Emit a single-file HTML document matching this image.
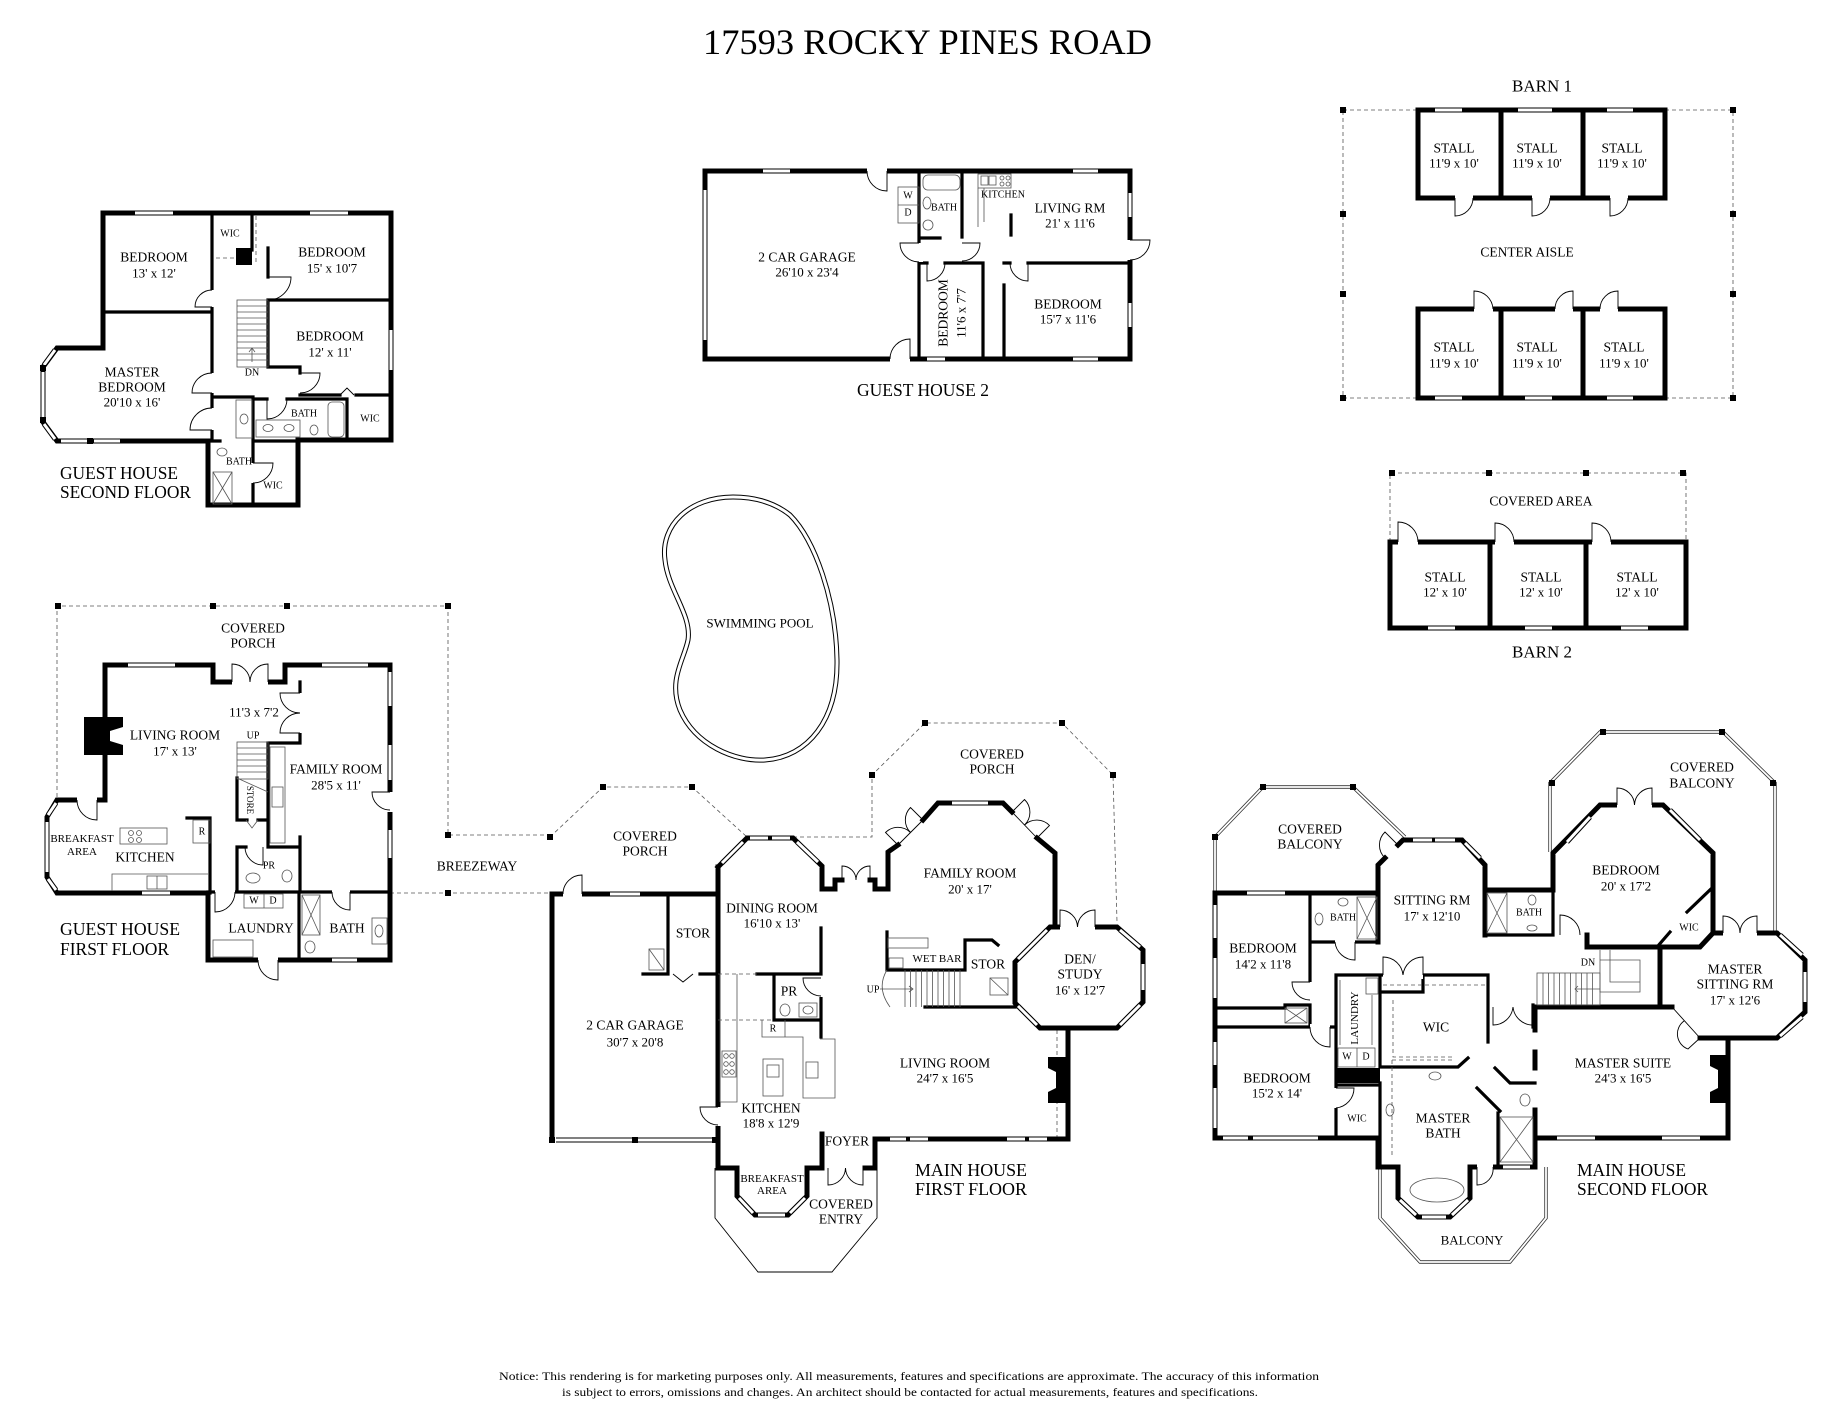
<!DOCTYPE html>
<html><head><meta charset="utf-8"><style>
html,body{margin:0;padding:0;background:#fff;}
svg{display:block}
.W{stroke:#000;stroke-width:5;fill:none;stroke-linecap:square;stroke-linejoin:miter}
.I{stroke:#000;stroke-width:3.2;fill:none;stroke-linecap:square}
.T{stroke:#000;stroke-width:.9;fill:none}
.G{stroke:#555;stroke-width:.8;fill:none}
.D{stroke:#555;stroke-width:.8;fill:none;stroke-dasharray:4 3}
.wb{stroke:#000;stroke-width:5;fill:none}
.ww{stroke:#fff;stroke-width:3;fill:none}
.bb{stroke:#333;stroke-width:3.4;fill:none}
.bw{stroke:#fff;stroke-width:1.8;fill:none}
text{font-family:"Liberation Serif","DejaVu Serif",serif;fill:#000;text-anchor:middle;dominant-baseline:central;font-size:13.5px}
.d{font-size:13px}
.s{font-size:10px}
.L{font-size:17.5px;text-anchor:start}
</style></head><body>
<svg width="1848" height="1427" viewBox="0 0 1848 1427" xmlns="http://www.w3.org/2000/svg">
<rect x="0" y="0" width="1848" height="1427" fill="#fff"/>

<!-- dashed outlines -->
<path class="D" d="M1343,110H1733V398H1343Z M1390,542V473H1686V542
M57,797V606H448V835H550 M390,893H552
M550,837L603,787H692L747,837 M793,837H872V775L925,723H1062L1113,775L1117,922 M1057,1030V1137
M216,258H236 M256,216V262"/>

<!-- thin outline breakfast/entry -->
<path class="T" d="M715,1168V1218L758,1272H832L877,1218V1168"/>

<!-- balcony double lines -->
<path class="bb" d="M1215,892V837L1263,787H1353L1405,837M1550,852V783L1600,732H1723L1775,783V932M1380,1167V1218L1420,1262H1510L1546,1218V1167"/>
<path class="bw" d="M1215,892V837L1263,787H1353L1405,837M1550,852V783L1600,732H1723L1775,783V932M1380,1167V1218L1420,1262H1510L1546,1218V1167"/>

<!-- pool -->
<path d="M733,497C690,497 660,525 665,560C668,590 692,615 688,640C684,660 668,680 680,710C695,745 735,762 765,760C808,757 838,720 837,660C836,600 815,540 790,515C775,503 755,497 733,497Z" fill="none" stroke="#000" stroke-width="5"/>
<path d="M733,497C690,497 660,525 665,560C668,590 692,615 688,640C684,660 668,680 680,710C695,745 735,762 765,760C808,757 838,720 837,660C836,600 815,540 790,515C775,503 755,497 733,497Z" fill="none" stroke="#fff" stroke-width="3"/>

<!-- exterior walls -->
<path class="W" d="M103,213H391V440H298V505H208V441H57L43,422V367L57,348H103Z
M705,171H1130V359H705Z
M1418,110H1665V198H1418Z M1501,110V198 M1583,110V198
M1418,309H1665V398H1418Z M1501,309V398 M1583,309V398
M1390,542H1686V628H1390Z M1490,542V628 M1586,542V628
M105,800V665H213V682H285V665H390V960H208V893H57L47,877V817L57,800Z
M718,894H552V1140
M718,867V1168H737V1196L755,1215H788L807,1196V1168H822V1134
M865,1168H875V1139H1068V1028H1040L1015,1003V962L1050,927H1117L1143,950V1002L1117,1028H1068
M888,889V852L898,845 M923,820L938,803H1003L1012,812 M1037,838L1055,853V927
M718,867L747,838H793L822,866V889H835V880H842 M870,880H875V889H888
M1378,893H1215V1138H1378V1167H1398V1198L1418,1217H1450L1470,1198V1167H1535V1138H1728V1038
M1378,942V865L1385,858 M1398,845L1403,840H1462L1485,865V935
M1485,890H1553V853L1600,805H1663L1713,853V933H1777L1805,960V1012L1777,1038H1700
M1587,935V947H1700L1713,933 M1660,947V1007 M1535,1007H1672 M1535,1007V1030 M1535,1052V1068 M1535,1110V1138"/>

<!-- interior walls -->
<path class="I" d="M212,213V441 M103,312H212 M252,213V250 M268,248V277 M268,300V367H300V373 M268,300H391
M300,395H340 M356,395H391 M212,397H253V438 M253,399H267 M287,399H347V440 M208,441H220 M253,441H298 M253,441V505
M919,171V359 M962,171V237 M919,238H940 M919,263H927 M945,263H983 M1004,263H1010 M1028,263H1130 M983,263V359 M1004,285V359 M1011,215V235
M300,682V743H268V847H300 M300,837V892 M237,847V892 M237,847H246 M208,892H390 M299,892V960 M237,778V820H247 M258,820H268 M187,818H210V893
M668,894V974H643 M700,974H718 M757,974H821V928 M774,974V1020H821 M821,989V1037
M887,932V970H965V940H992L998,945 M1015,962V1007H925
M1310,893V982 M1310,942H1378 M1215,1008H1285 M1215,1027H1336 M1285,1005H1310V1027 M1336,975V1138 M1336,975H1488V1042
M1380,975V1067H1458L1468,1058 M1380,992H1423V975 M1336,1085H1378 M1380,1083V1167 M1498,1113V1167 M1477,1088L1500,1111 M1495,1068L1510,1083H1535
M1485,935H1553V888 M1687,912L1712,888 M1657,947L1670,932 M1488,1005V1027 M1533,1005V1027"/>

<!-- black blocks / fireplaces / chimney -->
<rect x="236" y="248" width="16" height="17" fill="#000"/>
<rect x="84" y="717" width="39" height="38" fill="#000"/>
<path d="M123,727L110,731V741L123,745Z" fill="#fff"/>
<rect x="1048" y="1057" width="20" height="46" fill="#000"/>
<path d="M1048,1068L1056,1072V1088L1048,1092Z" fill="#fff"/>
<rect x="1710" y="1055" width="18" height="48" fill="#000"/>
<path d="M1710,1066L1718,1070V1088L1710,1092Z" fill="#fff"/>
<rect x="1337" y="1068" width="43" height="15" fill="#000"/>

<!-- fixtures -->
<g class="G">
<rect x="237" y="300" width="31" height="67"/>
<path d="M237,306H268M237,312H268M237,318H268M237,324H268M237,330H268M237,336H268M237,342H268M237,348H268M237,354H268M237,360H268M252,362V348M249,352L252,348L255,352"/>
<rect x="256" y="420" width="44" height="17"/><ellipse cx="268" cy="428" rx="5" ry="3.5"/><ellipse cx="289" cy="428" rx="5" ry="3.5"/>
<ellipse cx="314" cy="430" rx="4" ry="5"/><rect x="328" y="402" width="16" height="35" rx="4"/>
<rect x="236" y="400" width="16" height="38"/><ellipse cx="244" cy="419" rx="4" ry="5"/>
<rect x="213" y="472" width="19" height="32"/><path d="M213,472L232,504M232,472L213,504"/><ellipse cx="222" cy="452" rx="5" ry="4"/>
<rect x="898" y="187" width="21" height="36"/><path d="M898,205H919"/>
<rect x="923" y="175" width="37" height="15" rx="5"/><ellipse cx="927" cy="203" rx="4" ry="6"/><circle cx="928" cy="225" r="5"/>
<rect x="978" y="174" width="33" height="14"/><rect x="981" y="176" width="7" height="9"/><rect x="989" y="176" width="7" height="9"/>
<circle cx="1002" cy="178" r="2"/><circle cx="1008" cy="178" r="2"/><circle cx="1002" cy="184" r="2"/><circle cx="1008" cy="184" r="2"/>
<path d="M978,188V227M984,188V222"/>
<rect x="237" y="742" width="31" height="37"/>
<path d="M237,748H268M237,754H268M237,760H268M237,766H268M237,772H268M237,778L268,792M246,820L252,828L258,820"/>
<rect x="270" y="747" width="15" height="96"/><rect x="272" y="787" width="11" height="20"/>
<rect x="120" y="828" width="47" height="16"/><circle cx="131" cy="833" r="2.5"/><circle cx="139" cy="833" r="2.5"/><circle cx="131" cy="840" r="2.5"/><circle cx="139" cy="840" r="2.5"/>
<rect x="193" y="820" width="17" height="23"/>
<path d="M112,891V874H208"/><rect x="147" y="876" width="20" height="13"/><path d="M157,876V889"/>
<ellipse cx="253" cy="878" rx="7" ry="5"/><ellipse cx="287" cy="876" rx="5" ry="6"/>
<rect x="244" y="894" width="39" height="14"/><path d="M264,894V908"/><rect x="213" y="940" width="40" height="17"/>
<rect x="302" y="895" width="18" height="40"/><path d="M302,895L320,935M320,895L302,935"/><ellipse cx="310" cy="947" rx="5" ry="6"/>
<rect x="372" y="918" width="15" height="26"/><ellipse cx="379" cy="931" rx="4" ry="6"/>
<rect x="649" y="949" width="15" height="21"/><path d="M649,949L664,970"/>
<path d="M720,974V1102M737,974V1102H720"/><rect x="722" y="1051" width="14" height="26"/>
<circle cx="726" cy="1056" r="2.3"/><circle cx="732" cy="1056" r="2.3"/><circle cx="726" cy="1064" r="2.3"/><circle cx="732" cy="1064" r="2.3"/><circle cx="726" cy="1072" r="2.3"/><circle cx="732" cy="1072" r="2.3"/>
<rect x="763" y="1059" width="20" height="37"/><rect x="767" y="1065" width="12" height="12"/>
<path d="M762,1020V1037H785V1020M785,1037H803V1098H835V1039H820"/><rect x="806" y="1062" width="12" height="16"/>
<ellipse cx="785" cy="1010" rx="5" ry="6"/><rect x="799" y="1003" width="18" height="14"/><ellipse cx="808" cy="1010" rx="5" ry="4"/>
<rect x="888" y="938" width="40" height="10"/><rect x="889" y="958" width="14" height="10"/>
<path d="M887,970Q876,988 890,1007M905,970V1007M910.5,970V1007M916,970V1007M921.5,970V1007M927,970V1007M932.5,970V1007M938,970V1007M943.5,970V1007M949,970V1007M954.5,970V1007M960,970V1007M880,989H913M909,986L913,989L909,992"/>
<rect x="990" y="978" width="18" height="17"/><path d="M990,978L1008,995"/>
<ellipse cx="1319" cy="919" rx="4" ry="6"/><ellipse cx="1343" cy="902" rx="5" ry="4"/>
<rect x="1357" y="897" width="20" height="42"/><path d="M1357,897L1377,939M1377,897L1357,939"/>
<rect x="1285" y="1008" width="22" height="15"/><path d="M1285,1008L1307,1023M1307,1008L1285,1023"/>
<rect x="1338" y="1048" width="37" height="19"/><path d="M1357,1048V1067M1340,980V1045M1372,995V1045"/><rect x="1366" y="978" width="12" height="16"/>
<ellipse cx="1435" cy="1076" rx="6" ry="4"/><ellipse cx="1390" cy="1110" rx="4" ry="6"/><ellipse cx="1437" cy="1190" rx="27" ry="12"/>
<ellipse cx="1525" cy="1100" rx="5" ry="6"/><rect x="1500" y="1117" width="33" height="45"/><path d="M1500,1117L1533,1162M1533,1117L1500,1162"/>
<rect x="1487" y="893" width="20" height="40"/><path d="M1487,893L1507,933M1507,893L1487,933"/>
<ellipse cx="1532" cy="900" rx="4" ry="5"/><ellipse cx="1532" cy="928" rx="5" ry="3"/>
<rect x="1537" y="973" width="63" height="32"/>
<path d="M1543,973V1005M1548.5,973V1005M1554,973V1005M1559.5,973V1005M1565,973V1005M1570.5,973V1005M1576,973V1005M1581.5,973V1005M1587,973V1005M1592.5,973V1005M1600,950V992H1640V960H1600M1610,950V982H1640M1600,989H1575M1578,986L1575,989L1578,992"/>
</g>
<path class="D" d="M718,974H757M718,1020H774M1383,985H1487M1393,1000V1057H1455M1392,1060V1155M1392,1060H1455"/>

<!-- door gaps -->
<g fill="#fff">
<rect x="209" y="290" width="7" height="17"/><rect x="209" y="373" width="7" height="20"/><rect x="209" y="408" width="7" height="22"/>
<rect x="250" y="463" width="7" height="20"/>
<rect x="867" y="168" width="20" height="7"/><rect x="890" y="356" width="20" height="7"/><rect x="1127" y="240" width="7" height="20"/>
<rect x="916" y="243" width="7" height="19"/><rect x="959" y="243" width="7" height="18"/>
<rect x="1455" y="195" width="18" height="7"/><rect x="1532" y="195" width="18" height="7"/><rect x="1610" y="195" width="18" height="7"/>
<rect x="1474" y="306" width="19" height="7"/><rect x="1555" y="306" width="18" height="7"/><rect x="1600" y="306" width="18" height="7"/>
<rect x="1398" y="539" width="20" height="7"/><rect x="1495" y="539" width="19" height="7"/><rect x="1592" y="539" width="19" height="7"/>
<rect x="232" y="679" width="36" height="7"/><rect x="297" y="693" width="7" height="40"/><rect x="77" y="797" width="20" height="7"/>
<rect x="387" y="792" width="7" height="20"/><rect x="258" y="957" width="20" height="7"/><rect x="215" y="889" width="20" height="7"/><rect x="332" y="889" width="18" height="7"/>
<rect x="563" y="891" width="19" height="7"/><rect x="715" y="1107" width="7" height="19"/><rect x="818" y="978" width="7" height="19"/>
<rect x="1060" y="924" width="35" height="7"/>
<rect x="1335" y="939" width="20" height="7"/><rect x="1307" y="982" width="7" height="18"/><rect x="1310" y="1024" width="20" height="7"/>
<rect x="1333" y="1088" width="7" height="20"/><rect x="1383" y="972" width="40" height="7"/>
<rect x="1617" y="802" width="35" height="7"/><rect x="1723" y="930" width="34" height="7"/><rect x="1477" y="1164" width="16" height="7"/>
</g>

<!-- windows -->
<path class="wb" d="M135,213H173M310,213H348M391,330V370M55,350L44,365M43,372V417M44,424L55,439M61,441H88M94,441H120
M763,171H790M1073,171H1098M927,359H945M1073,359H1098M1130,193V217M1130,303V327M705,190V340
M1435,110H1462M1518,110H1552M1607,110H1633M1435,398H1462M1525,398H1552M1607,398H1633
M1428,628H1455M1525,628H1552M1621,628H1648
M128,665H175M322,665H368M390,672V706M390,745V780M390,830V858M142,893H170M332,960H357M56,803L48,815M47,822V872M48,879L56,890
M610,894H640M556,1140H632M638,1140H712M722,863L743,842M750,838H768M772,838H790M797,842L818,862M952,803H988M1120,930L1140,947M1143,964V990M1140,1005L1120,1025M1037,1025L1018,1006M1018,959L1047,930M890,1139H906M910,1139H928M1007,1139H1025M1029,1139H1047M739,1198L753,1213M758,1215H785M790,1213L805,1198
M1215,905V938M1215,958V998M1215,1042V1065M1215,1088V1128M1247,893H1285M1223,1138H1248M1253,1138H1318M1413,840H1432M1435,840H1455M1465,843L1480,858M1567,842L1590,817M1670,810L1700,840M1780,935L1802,955M1805,972V1002M1802,1017L1780,1036M1557,1138H1595M1662,1138H1700M1400,1200L1416,1215M1422,1217H1446M1452,1215L1468,1200M1503,1167H1530"/>
<path class="ww" d="M135,213H173M310,213H348M391,330V370M55,350L44,365M43,372V417M44,424L55,439M61,441H88M94,441H120
M763,171H790M1073,171H1098M927,359H945M1073,359H1098M1130,193V217M1130,303V327M705,190V340
M1435,110H1462M1518,110H1552M1607,110H1633M1435,398H1462M1525,398H1552M1607,398H1633
M1428,628H1455M1525,628H1552M1621,628H1648
M128,665H175M322,665H368M390,672V706M390,745V780M390,830V858M142,893H170M332,960H357M56,803L48,815M47,822V872M48,879L56,890
M610,894H640M556,1140H632M638,1140H712M722,863L743,842M750,838H768M772,838H790M797,842L818,862M952,803H988M1120,930L1140,947M1143,964V990M1140,1005L1120,1025M1037,1025L1018,1006M1018,959L1047,930M890,1139H906M910,1139H928M1007,1139H1025M1029,1139H1047M739,1198L753,1213M758,1215H785M790,1213L805,1198
M1215,905V938M1215,958V998M1215,1042V1065M1215,1088V1128M1247,893H1285M1223,1138H1248M1253,1138H1318M1413,840H1432M1435,840H1455M1465,843L1480,858M1567,842L1590,817M1670,810L1700,840M1780,935L1802,955M1805,972V1002M1802,1017L1780,1036M1557,1138H1595M1662,1138H1700M1400,1200L1416,1215M1422,1217H1446M1452,1215L1468,1200M1503,1167H1530"/>

<!-- doors -->
<path class="T" d="M212,307H195A17,17 0 0 1 212,290M212,393H192A20,20 0 0 1 212,373M212,430H190A22,22 0 0 1 212,408M268,277H291A23,23 0 0 1 268,300M300,373H320A20,20 0 0 1 300,393M267,399V419A20,20 0 0 0 287,399M253,463H273A20,20 0 0 1 253,483M340,395L347,388L354,395
M887,171V191A20,20 0 0 1 867,171M910,359V339A20,20 0 0 0 890,359M1130,240H1150A20,20 0 0 1 1130,260M919,243H900A19,19 0 0 0 919,262M962,243H980A18,18 0 0 1 962,261M927,263V281A18,18 0 0 0 945,263M1028,263V281A18,18 0 0 1 1010,263
M1455,198V216A18,18 0 0 0 1473,198M1532,198V216A18,18 0 0 0 1550,198M1610,198V216A18,18 0 0 0 1628,198M1474,309V291A19,19 0 0 1 1493,309M1573,309V291A18,18 0 0 0 1555,309M1618,309V291A18,18 0 0 0 1600,309
M1398,542V522A20,20 0 0 1 1418,542M1495,542V523A19,19 0 0 1 1514,542M1592,542V523A19,19 0 0 1 1611,542
M232,682V664A18,18 0 0 1 250,682M268,682V664A18,18 0 0 0 250,682M300,693H280A20,20 0 0 0 300,713M300,733H280A20,20 0 0 1 300,713M97,800V820A20,20 0 0 1 77,800M390,792H372A18,18 0 0 0 390,810M278,960V980A20,20 0 0 1 258,960M215,892V912A20,20 0 0 0 235,892M350,892V910A18,18 0 0 1 332,892M263,847V865A18,18 0 0 1 245,847
M582,894V875A19,19 0 0 0 563,894M673,974L683,982L693,974M718,1107H700A18,18 0 0 0 718,1125M821,978H803A18,18 0 0 0 821,996M842,880V866A14,14 0 0 1 856,880M870,880V866A14,14 0 0 0 856,880M1060,927V910A17.5,17.5 0 0 1 1077.5,927M1095,927V910A17.5,17.5 0 0 0 1077.5,927M828,1168V1185A17.5,17.5 0 0 0 845.5,1168M863,1168V1185A17.5,17.5 0 0 1 845.5,1168
M898,845L923,820M898,845L885.5,832.5A17.7,17.7 0 0 1 910.5,832.5M923,820L910.5,807.5A17.7,17.7 0 0 0 910.5,832.5M1012,812L1037,838M1012,812L1024.5,799.5A17.7,17.7 0 0 1 1024.5,825M1037,838L1049.5,825.5A17.7,17.7 0 0 0 1024.5,825
M1355,942V960A20,20 0 0 1 1335,942M1310,982H1292A18,18 0 0 0 1310,1000M1330,1027V1047A20,20 0 0 1 1310,1027M1336,1088H1354A20,20 0 0 1 1336,1108M1383,975V957A20,20 0 0 1 1403,975M1423,975V957A20,20 0 0 0 1403,975M1493,1007V1025A20,20 0 0 0 1513,1007M1533,1007V1025A20,20 0 0 1 1513,1007M1617,805V788A17.5,17.5 0 0 1 1634.5,805M1652,805V788A17.5,17.5 0 0 0 1634.5,805M1723,933V916A17,17 0 0 1 1740,933M1757,933V916A17,17 0 0 0 1740,933M1477,1167V1185A16,16 0 0 0 1493,1167M1398,845L1385,832A18,18 0 0 0 1385,858M1700,1038L1672,1007M1700,1038L1688,1049A16,16 0 0 1 1684,1021M1560,935V915A20,20 0 0 1 1580,935"/>

<!-- posts -->
<g fill="#000">
<rect x="1340" y="107" width="6" height="6"/><rect x="1730" y="107" width="6" height="6"/><rect x="1340" y="211" width="6" height="6"/><rect x="1730" y="211" width="6" height="6"/>
<rect x="1340" y="291" width="6" height="6"/><rect x="1730" y="291" width="6" height="6"/><rect x="1340" y="395" width="6" height="6"/><rect x="1730" y="395" width="6" height="6"/>
<rect x="1389" y="470" width="6" height="6"/><rect x="1486" y="470" width="6" height="6"/><rect x="1583" y="470" width="6" height="6"/><rect x="1680" y="470" width="6" height="6"/>
<rect x="55" y="603" width="6" height="6"/><rect x="210" y="603" width="6" height="6"/><rect x="284" y="603" width="6" height="6"/><rect x="445" y="603" width="6" height="6"/>
<rect x="445" y="832" width="6" height="6"/><rect x="445" y="890" width="6" height="6"/>
<rect x="547" y="834" width="6" height="6"/><rect x="600" y="784" width="6" height="6"/><rect x="689" y="784" width="6" height="6"/>
<rect x="869" y="772" width="6" height="6"/><rect x="922" y="720" width="6" height="6"/><rect x="1059" y="720" width="6" height="6"/><rect x="1110" y="772" width="6" height="6"/>
<rect x="549" y="1137" width="6" height="6"/><rect x="632" y="1137" width="6" height="6"/><rect x="712" y="1137" width="6" height="6"/>
<rect x="1212" y="834" width="6" height="6"/><rect x="1260" y="784" width="6" height="6"/><rect x="1350" y="784" width="6" height="6"/>
<rect x="1549" y="780" width="6" height="6"/><rect x="1600" y="729" width="6" height="6"/><rect x="1719" y="729" width="6" height="6"/><rect x="1770" y="780" width="6" height="6"/>
<rect x="40" y="365" width="6" height="6"/><rect x="40" y="417" width="6" height="6"/><rect x="87" y="438" width="6" height="6"/>
</g>

<!-- title & notice -->
<text x="927.5" y="42" style="font-size:36px" textLength="449" lengthAdjust="spacingAndGlyphs">17593 ROCKY PINES ROAD</text>
<text x="909" y="1376" style="font-size:12px" textLength="820" lengthAdjust="spacingAndGlyphs">Notice: This rendering is for marketing purposes only. All measurements, features and specifications are approximate. The accuracy of this information</text>
<text x="910" y="1392" style="font-size:12px" textLength="696" lengthAdjust="spacingAndGlyphs">is subject to errors, omissions and changes. An architect should be contacted for actual measurements, features and specifications.</text>

<!-- GH 2F -->
<text x="154" y="257">BEDROOM</text><text class="d" x="154" y="273">13' x 12'</text>
<text class="s" x="230" y="234">WIC</text>
<text x="332" y="252">BEDROOM</text><text class="d" x="332" y="268">15' x 10'7</text>
<text x="330" y="336">BEDROOM</text><text class="d" x="330" y="352">12' x 11'</text>
<text x="132" y="372">MASTER</text><text x="132" y="387">BEDROOM</text><text class="d" x="132" y="402">20'10 x 16'</text>
<text class="s" x="252" y="373">DN</text><text class="s" x="304" y="414">BATH</text><text class="s" x="370" y="419">WIC</text>
<text class="s" x="239" y="462">BATH</text><text class="s" x="273" y="486">WIC</text>
<text class="L" x="60" y="473" textLength="118" lengthAdjust="spacingAndGlyphs">GUEST HOUSE</text>
<text class="L" x="60" y="492" textLength="131" lengthAdjust="spacingAndGlyphs">SECOND FLOOR</text>

<!-- GH 2 -->
<text x="807" y="257">2 CAR GARAGE</text><text class="d" x="807" y="272">26'10 x 23'4</text>
<text class="s" x="908" y="196">W</text><text class="s" x="908" y="213">D</text>
<text class="s" x="944" y="208">BATH</text><text class="s" x="1003" y="195">KITCHEN</text>
<text x="1070" y="208">LIVING RM</text><text class="d" x="1070" y="223">21' x 11'6</text>
<text transform="translate(943,313) rotate(-90)" x="0" y="0">BEDROOM</text>
<text class="d" transform="translate(961,313) rotate(-90)" x="0" y="0">11'6 x 7'7</text>
<text x="1068" y="304">BEDROOM</text><text class="d" x="1068" y="319">15'7 x 11'6</text>
<text x="923" y="390" style="font-size:17.5px" textLength="132" lengthAdjust="spacingAndGlyphs">GUEST HOUSE 2</text>

<!-- barns -->
<text x="1542" y="86" style="font-size:17px">BARN 1</text>
<text x="1454" y="148">STALL</text><text class="d" x="1454" y="163">11'9 x 10'</text>
<text x="1537" y="148">STALL</text><text class="d" x="1537" y="163">11'9 x 10'</text>
<text x="1622" y="148">STALL</text><text class="d" x="1622" y="163">11'9 x 10'</text>
<text x="1527" y="252">CENTER AISLE</text>
<text x="1454" y="347">STALL</text><text class="d" x="1454" y="363">11'9 x 10'</text>
<text x="1537" y="347">STALL</text><text class="d" x="1537" y="363">11'9 x 10'</text>
<text x="1624" y="347">STALL</text><text class="d" x="1624" y="363">11'9 x 10'</text>
<text x="1541" y="501">COVERED AREA</text>
<text x="1445" y="577">STALL</text><text class="d" x="1445" y="592">12' x 10'</text>
<text x="1541" y="577">STALL</text><text class="d" x="1541" y="592">12' x 10'</text>
<text x="1637" y="577">STALL</text><text class="d" x="1637" y="592">12' x 10'</text>
<text x="1542" y="652" style="font-size:17px">BARN 2</text>

<!-- pool / breezeway -->
<text class="d" x="760" y="623">SWIMMING POOL</text>
<text x="477" y="866">BREEZEWAY</text>

<!-- GH 1F -->
<text x="253" y="628">COVERED</text><text x="253" y="643">PORCH</text>
<text x="175" y="735">LIVING ROOM</text><text class="d" x="175" y="751">17' x 13'</text>
<text class="d" x="254" y="712">11'3 x 7'2</text>
<text class="s" x="253" y="736">UP</text>
<text x="336" y="769">FAMILY ROOM</text><text class="d" x="336" y="785">28'5 x 11'</text>
<text class="s" style="font-size:9px" transform="translate(250,800) rotate(90)" x="0" y="0">STORE</text>
<text style="font-size:11px" x="82" y="839">BREAKFAST</text><text style="font-size:11px" x="82" y="852">AREA</text>
<text x="145" y="857">KITCHEN</text>
<text class="s" x="202" y="832">R</text><text class="s" x="269" y="866">PR</text>
<text class="s" x="254" y="901">W</text><text class="s" x="273" y="901">D</text>
<text x="261" y="928">LAUNDRY</text><text x="347" y="928">BATH</text>
<text class="L" x="60" y="929" textLength="120" lengthAdjust="spacingAndGlyphs">GUEST HOUSE</text>
<text class="L" x="60" y="949" textLength="109" lengthAdjust="spacingAndGlyphs">FIRST FLOOR</text>

<!-- Main 1F -->
<text x="645" y="836">COVERED</text><text x="645" y="851">PORCH</text>
<text x="772" y="908">DINING ROOM</text><text class="d" x="772" y="923">16'10 x 13'</text>
<text x="693" y="933">STOR</text>
<text x="789" y="991">PR</text><text class="s" x="773" y="1029">R</text>
<text x="635" y="1025">2 CAR GARAGE</text><text class="d" x="635" y="1042">30'7 x 20'8</text>
<text class="s" x="873" y="990">UP</text>
<text style="font-size:11px" x="937" y="959">WET BAR</text>
<text x="988" y="964">STOR</text>
<text x="771" y="1108">KITCHEN</text><text class="d" x="771" y="1123">18'8 x 12'9</text>
<text x="847" y="1141">FOYER</text>
<text style="font-size:11px" x="772" y="1179">BREAKFAST</text><text style="font-size:11px" x="772" y="1191">AREA</text>
<text x="841" y="1204">COVERED</text><text x="841" y="1219">ENTRY</text>
<text x="970" y="873">FAMILY ROOM</text><text class="d" x="970" y="889">20' x 17'</text>
<text x="992" y="754">COVERED</text><text x="992" y="769">PORCH</text>
<text x="1080" y="959">DEN/</text><text x="1080" y="974">STUDY</text><text class="d" x="1080" y="990">16' x 12'7</text>
<text x="945" y="1063">LIVING ROOM</text><text class="d" x="945" y="1078">24'7 x 16'5</text>
<text class="L" x="915" y="1170" textLength="112" lengthAdjust="spacingAndGlyphs">MAIN HOUSE</text>
<text class="L" x="915" y="1189" textLength="112" lengthAdjust="spacingAndGlyphs">FIRST FLOOR</text>

<!-- Main 2F -->
<text x="1310" y="829">COVERED</text><text x="1310" y="844">BALCONY</text>
<text x="1432" y="900">SITTING RM</text><text class="d" x="1432" y="916">17' x 12'10</text>
<text class="s" x="1343" y="918">BATH</text>
<text x="1263" y="948">BEDROOM</text><text class="d" x="1263" y="964">14'2 x 11'8</text>
<text style="font-size:11px" transform="translate(1355,1018) rotate(-90)" x="0" y="0">LAUNDRY</text>
<text x="1436" y="1027">WIC</text>
<text class="s" x="1347" y="1057">W</text><text class="s" x="1366" y="1057">D</text>
<text x="1277" y="1078">BEDROOM</text><text class="d" x="1277" y="1093">15'2 x 14'</text>
<text class="s" x="1357" y="1119">WIC</text>
<text x="1443" y="1118">MASTER</text><text x="1443" y="1133">BATH</text>
<text class="d" x="1472" y="1240">BALCONY</text>
<text x="1702" y="767">COVERED</text><text x="1702" y="783">BALCONY</text>
<text x="1626" y="870">BEDROOM</text><text class="d" x="1626" y="886">20' x 17'2</text>
<text class="s" x="1529" y="913">BATH</text>
<text class="s" x="1689" y="928">WIC</text>
<text class="s" x="1588" y="963">DN</text>
<text x="1735" y="969">MASTER</text><text x="1735" y="984">SITTING RM</text><text class="d" x="1735" y="1000">17' x 12'6</text>
<text x="1623" y="1063">MASTER SUITE</text><text class="d" x="1623" y="1078">24'3 x 16'5</text>
<text class="L" x="1577" y="1170" textLength="109" lengthAdjust="spacingAndGlyphs">MAIN HOUSE</text>
<text class="L" x="1577" y="1189" textLength="131" lengthAdjust="spacingAndGlyphs">SECOND FLOOR</text>
</svg>
</body></html>
